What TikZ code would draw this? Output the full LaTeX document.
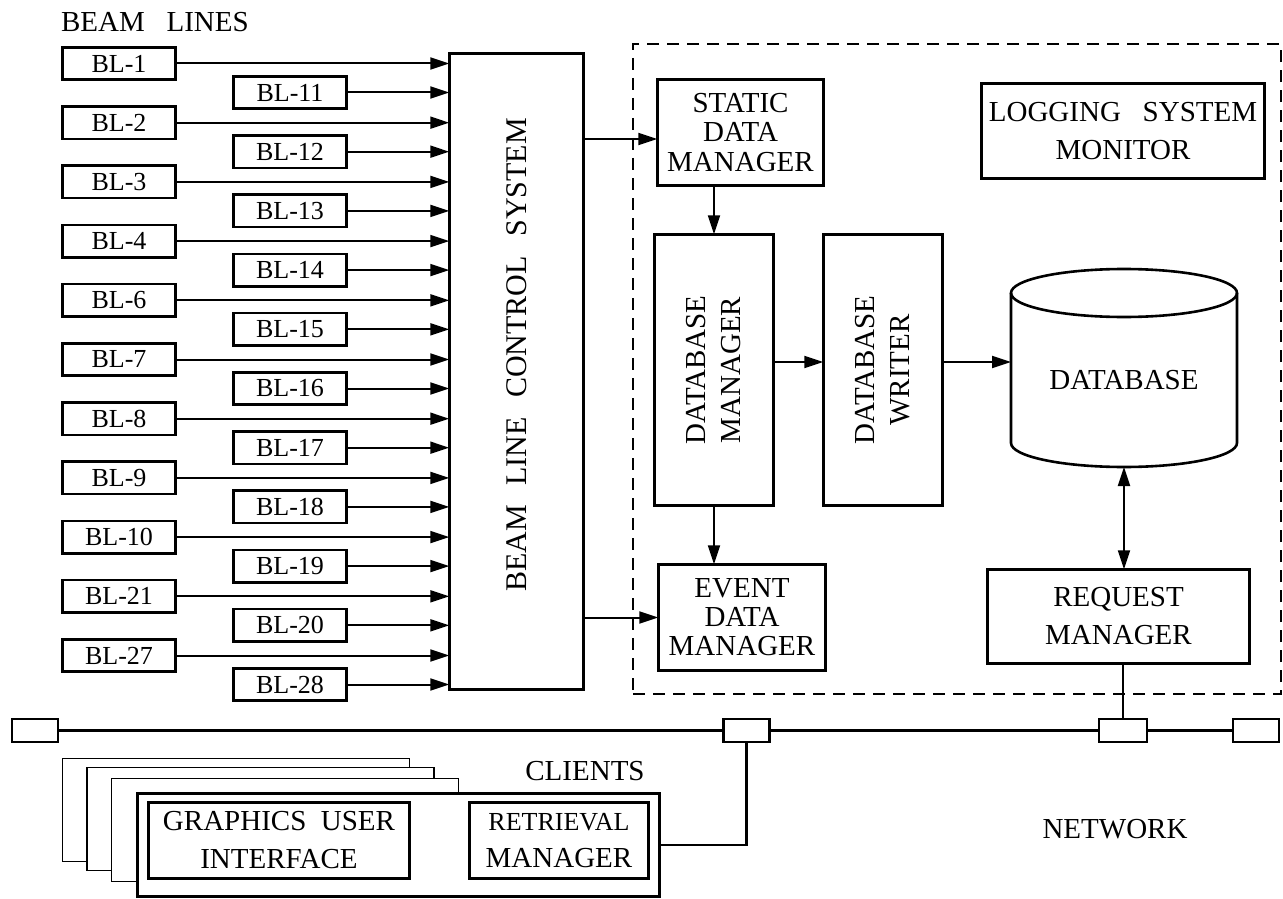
\documentclass[tikz,border=0pt]{standalone}
\usepackage{fontspec}
\setmainfont{Liberation Serif}
\usetikzlibrary{arrows.meta}
\newcommand\wsp{\hspace{0.75em}}
\newcommand\bigtxt{\fontsize{29}{30}\selectfont}
\begin{document}
\begin{tikzpicture}[x=1pt,y=-1pt,
  every node/.style={inner sep=0pt, outer sep=0pt},
  box/.style={draw, line width=2.6pt, align=center, font=\bigtxt},
  blbox/.style={draw, line width=2.6pt, minimum width=113.5pt, minimum height=32.5pt, font=\fontsize{26}{26}\selectfont},
  lbl/.style={align=center, font=\bigtxt},
  arr/.style={line width=2pt, -{Triangle[length=19pt,width=12pt]}},
  dblarr/.style={line width=2pt, {Triangle[length=19pt,width=12pt]}-{Triangle[length=19pt,width=12pt]}},
  netbox/.style={draw, line width=2.4pt, minimum width=46pt, minimum height=23pt},
  net/.style={line width=2.4pt},
  backbox/.style={draw, fill=white, line width=1.5pt, minimum width=347pt, minimum height=103pt}
]
\useasboundingbox (0,0) rectangle (1283,899);

% beam line control system
\node[box, minimum width=134.5pt, minimum height=636.5pt] (bcs) at (516.5,371.5) {};
\node[lbl, rotate=90, font=\fontsize{30}{30}\selectfont] (bcst) at (516.5,355) {BEAM\hspace{0.65em}LINE\hspace{0.65em}CONTROL\hspace{0.65em}SYSTEM};

\node[anchor=base west, font=\bigtxt] (bltitle) at (61,32) {BEAM\wsp LINES};

\foreach \lab [count=\i from 0] in {1,2,3,4,6,7,8,9,10,21,27} {
  \node[blbox] (L\i) at (119,63.5+59.2*\i) {BL-\lab};
  \draw[arr] (L\i.east) -- (L\i.east -| bcs.west);
}
\foreach \lab [count=\i from 0] in {11,12,13,14,15,16,17,18,19,20,28} {
  \node[blbox] (R\i) at (290,92.5+59.2*\i) {BL-\lab};
  \draw[arr] (R\i.east) -- (R\i.east -| bcs.west);
}

% dashed system boundary
\node[draw, dashed, dash pattern=on 12pt off 8pt, line width=1.5pt, minimum width=648pt, minimum height=650pt] (sys) at (957,369) {};

\node[box, minimum width=166.5pt, minimum height=106.5pt, font=\fontsize{29}{29.5}\selectfont] (sdm) at (740.5,132.5) {STATIC\\DATA\\MANAGER};
\node[box, minimum width=283.5pt, minimum height=95.5pt, font=\fontsize{29}{37.5}\selectfont] (lsm) at (1123,131) {LOGGING\wsp SYSTEM\\MONITOR};
\node[box, minimum width=119.5pt, minimum height=271.5pt] (dbm) at (714,370) {};
\node[lbl, rotate=90, font=\fontsize{29}{35}\selectfont] (dbmt) at (714,370) {DATABASE\\MANAGER};
\node[box, minimum width=119.5pt, minimum height=271.5pt] (dbw) at (883,370) {};
\node[lbl, rotate=90, font=\fontsize{29}{35}\selectfont] (dbwt) at (883,370) {DATABASE\\WRITER};
\node[box, minimum width=167.5pt, minimum height=106.5pt, font=\fontsize{29}{29}\selectfont] (edm) at (742,617.5) {EVENT\\DATA\\MANAGER};
\node[box, minimum width=262.5pt, minimum height=94.5pt, font=\fontsize{29}{38}\selectfont] (req) at (1118.5,616.5) {REQUEST\\MANAGER};

% database cylinder
\node[minimum width=226pt, minimum height=198pt] (db) at (1124,368) {};
\draw[line width=2.6pt] (1124,293) ellipse [x radius=113, y radius=24];
\draw[line width=2.6pt] (1011,293) -- (1011,443)
  .. controls (1011,456.25) and (1061.6,467) .. (1124,467)
  .. controls (1186.4,467) and (1237,456.25) .. (1237,443) -- (1237,293);
\node[lbl] (dbt) at (1124,380) {DATABASE};

% connectors inside
\draw[arr] ([yshift=-6.5pt]sdm.west -| bcs.east) -- ([yshift=-6.5pt]sdm.west);
\draw[arr] (edm.west -| bcs.east) -- (edm.west);
\draw[arr] (dbm.north |- sdm.south) -- (dbm.north);
\draw[arr] (dbm.south) -- (dbm.south |- edm.north);
\draw[arr] ([yshift=8pt]dbm.east) -- ([yshift=8pt]dbw.west);
\draw[arr] ([yshift=8pt]dbw.east) -- ([yshift=8pt]dbw.east -| db.west);
\draw[dblarr] (db.south) -- (db.south |- req.north);

% network
\node[netbox] (nb1) at (35,730.5) {};
\node[netbox] (nb2) at (746.5,730.5) {};
\node[netbox, minimum width=48pt] (nb3) at (1123,730.5) {};
\node[netbox] (nb4) at (1256,730.5) {};
\draw[net] (nb1.east) -- (nb2.west);
\draw[net] (nb2.east) -- (nb3.west);
\draw[net] (nb3.east) -- (nb4.west);
\draw[net] (req.south -| nb3.north) -- (nb3.north);
\node[font=\bigtxt] (netlbl) at (1115,829) {NETWORK};

% clients
\node[backbox] (c1) at (236,810) {};
\node[backbox] (c2) at (260.5,819) {};
\node[backbox] (c3) at (285,830) {};
\node[draw, fill=white, line width=3pt, minimum width=522pt, minimum height=103.5pt] (cf) at (398.5,845) {};
\node[box, minimum width=261.5pt, minimum height=76.5pt, font=\fontsize{29}{38}\selectfont] (gui) at (279,840.5) {GRAPHICS\hspace{0.5em}USER\\INTERFACE};
\node[box, minimum width=179.5pt, minimum height=76.5pt, font=\fontsize{29}{37}\selectfont] (ret) at (559,840.5) {{\fontsize{26}{26}\selectfont RETRIEVAL}\\MANAGER};
\node[font=\bigtxt] (clients) at (585,771) {CLIENTS};
\draw[net] (cf.east) -| (nb2.south);
\end{tikzpicture}
\end{document}
